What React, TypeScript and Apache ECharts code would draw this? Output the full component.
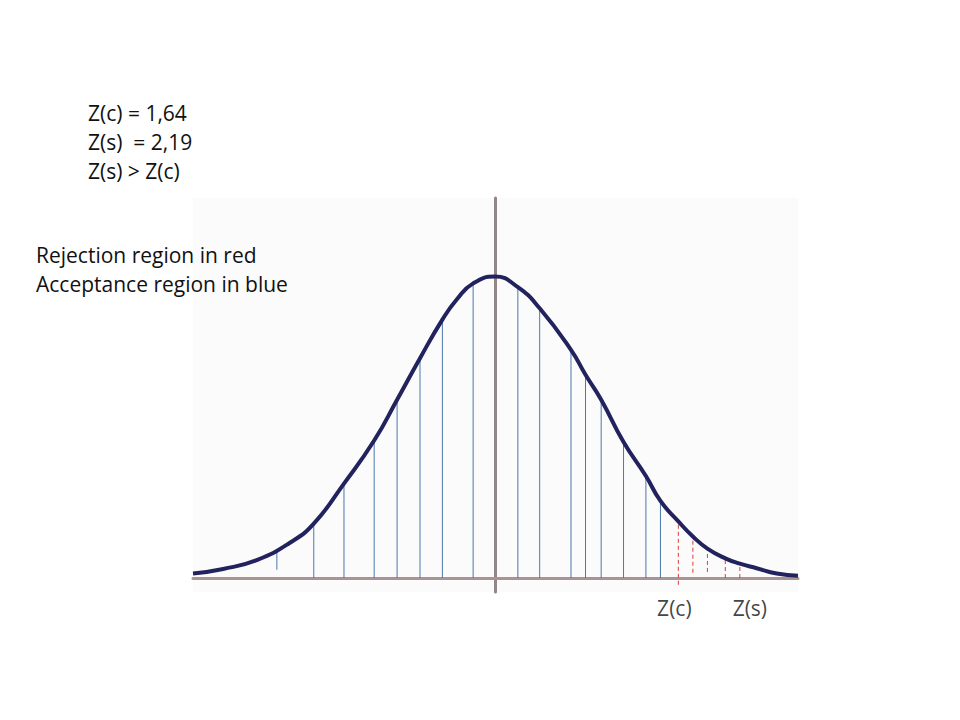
import React, { useEffect, useRef } from "react";
import * as echarts from "echarts";

const zCritical = 1.64;
const zStatistic = 2.19;

// Bell curve, sampled as [z, density]
const curvePoints: [number, number][] = [
  [-2.7, 0.006], [-2.43, 0.012], [-2.125, 0.024], [-1.83, 0.047], [-1.62, 0.072],
  [-1.35, 0.125], [-1.08, 0.182], [-0.875, 0.236], [-0.67, 0.291], [-0.47, 0.342],
  [-0.34, 0.369], [-0.195, 0.39], [0, 0.399], [0.205, 0.385], [0.4, 0.357],
  [0.68, 0.302], [0.81, 0.269], [0.95, 0.236], [1.15, 0.18], [1.35, 0.135],
  [1.48, 0.102], [zCritical, 0.075], [1.77, 0.055], [1.9, 0.039], [2.06, 0.026],
  [zStatistic, 0.019], [2.34, 0.013], [2.52, 0.006], [2.71, 0.003],
];

// Acceptance hatching: [z, from, to]
const acceptHatch: [number, number, number][] = [
  [-1.95, 0.011, 0.038], [-1.62, 0, 0.07], [-1.35, 0, 0.125], [-1.08, 0, 0.182],
  [-0.875, 0, 0.236], [-0.67, 0, 0.291], [-0.47, 0, 0.342], [-0.195, 0, 0.39],
  [0.205, 0, 0.385], [0.4, 0, 0.357], [0.68, 0, 0.302], [0.81, 0, 0.269],
  [0.95, 0, 0.236], [1.15, 0, 0.18], [1.35, 0, 0.135], [1.48, 0, 0.102],
];

// Rejection hatching: [z, from, to]
const rejectHatch: [number, number, number][] = [
  [zCritical, -0.009, 0.075], [1.77, 0.007, 0.055], [1.9, 0.008, 0.039],
  [2.06, 0, 0.026], [zStatistic, 0, 0.019],
];

const zLabels = [
  { name: "Z(c)", value: zCritical, dx: -4 },
  { name: "Z(s)", value: zStatistic, dx: 10 },
];

const infoLines = ["Z(c) = 1,64", "Z(s)  = 2,19", "Z(s) > Z(c)"];
const legendLines = ["Rejection region in red", "Acceptance region in blue"];

const FONT = "'Open Sans', 'Noto Sans', sans-serif";

function hatchRenderer(color: string, dashed: boolean) {
  return (_params: any, api: any) => {
    const x = api.value(0);
    const p0 = api.coord([x, api.value(1)]);
    const p1 = api.coord([x, api.value(2)]);
    return {
      type: "line",
      shape: { x1: p0[0], y1: p0[1], x2: p1[0], y2: p1[1] },
      style: {
        stroke: color,
        lineWidth: 1,
        lineDash: dashed ? [4, 3] : undefined,
      },
    };
  };
}

export default function App() {
  const ref = useRef<HTMLDivElement>(null);

  useEffect(() => {
    if (!ref.current) return;
    const chart = echarts.init(ref.current, undefined, { renderer: "svg" });

    const textEls: any[] = [];
    infoLines.forEach((t, i) => {
      textEls.push({
        type: "text",
        left: 88,
        top: 102 + i * 29,
        style: { text: t, fill: "#111", font: `21px ${FONT}` },
      });
    });
    legendLines.forEach((t, i) => {
      textEls.push({
        type: "text",
        left: 36,
        top: 244 + i * 29,
        style: { text: t, fill: "#111", font: `21px ${FONT}` },
      });
    });

    chart.setOption({
      animation: false,
      backgroundColor: "#ffffff",
      grid: {
        left: 193,
        right: 162,
        top: 198,
        bottom: 128,
        show: true,
        backgroundColor: "#fbfbfb",
        borderWidth: 0,
      },
      xAxis: {
        type: "value",
        min: -2.7,
        max: 2.71,
        axisLine: { onZero: true, lineStyle: { color: "#ab9393", width: 3 } },
        axisTick: { show: false },
        axisLabel: { show: false },
        splitLine: { show: false },
      },
      yAxis: {
        type: "value",
        min: -0.0185,
        max: 0.503,
        axisLine: { onZero: true, lineStyle: { color: "#928686", width: 3 } },
        axisTick: { show: false },
        axisLabel: { show: false },
        splitLine: { show: false },
      },
      graphic: textEls,
      series: [
        {
          type: "custom",
          renderItem: hatchRenderer("#4a78ad", false),
          data: acceptHatch,
          z: 3,
          silent: true,
        },
        {
          type: "custom",
          renderItem: hatchRenderer("#e03a3a", true),
          data: rejectHatch,
          z: 3,
          silent: true,
        },
        {
          type: "line",
          data: curvePoints,
          smooth: 0.5,
          showSymbol: false,
          lineStyle: { color: "#22225e", width: 4 },
          z: 4,
          silent: true,
        },
        {
          type: "scatter",
          symbolSize: 0,
          silent: true,
          data: zLabels.map((l) => ({
            name: l.name,
            value: [l.value, 0],
            label: { offset: [l.dx, 0] },
          })),
          label: {
            show: true,
            position: "bottom",
            distance: 19,
            formatter: (p: any) => p.name,
            color: "#111",
            fontSize: 21,
            fontFamily: FONT,
          },
        },
      ],
    });

    return () => chart.dispose();
  }, []);

  return (
    <div
      ref={ref}
      style={{ position: "absolute", left: 0, top: 0, width: 960, height: 720 }}
    />
  );
}
